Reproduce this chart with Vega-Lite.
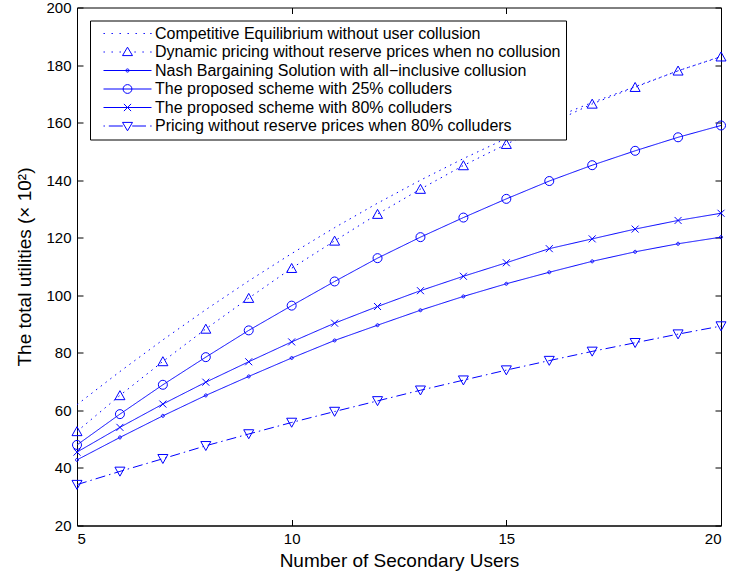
{
  "$schema": "https://vega.github.io/schema/vega-lite/v6.json",
  "width": 644,
  "height": 518,
  "autosize": {"type": "none"},
  "padding": {"left": 77, "top": 7.5, "right": 11, "bottom": 51.5},
  "background": "white",
  "config": {
    "font": "Liberation Sans",
    "view": {"stroke": "black", "strokeWidth": 1},
    "axis": {
      "labelFont": "Liberation Sans",
      "labelFontSize": 15,
      "labelColor": "black",
      "domainColor": "black",
      "tickColor": "black",
      "tickSize": -6,
      "grid": false,
      "titleFont": "Liberation Sans",
      "titleFontSize": 19,
      "titleFontWeight": "normal",
      "titleColor": "black"
    },
    "legend": {
      "orient": "top-left",
      "offset": 13,
      "padding": 5,
      "strokeColor": "black",
      "fillColor": "white",
      "cornerRadius": 0,
      "labelFont": "Liberation Sans",
      "labelFontSize": 16,
      "labelColor": "black",
      "labelLimit": 0,
      "symbolSize": 64,
      "symbolStrokeWidth": 1,
      "symbolStrokeColor": "blue",
      "symbolFillColor": "transparent",
      "symbolOpacity": 1,
      "labelOffset": 44,
      "rowPadding": 2.5
    }
  },
  "data": {
    "values": [
      {"x": 5, "s": "A", "v": 62}, {"x": 6, "s": "A", "v": 73.5}, {"x": 7, "s": "A", "v": 84.5}, {"x": 8, "s": "A", "v": 95}, {"x": 9, "s": "A", "v": 105}, {"x": 10, "s": "A", "v": 114.5}, {"x": 11, "s": "A", "v": 123.5}, {"x": 12, "s": "A", "v": 132}, {"x": 13, "s": "A", "v": 140}, {"x": 14, "s": "A", "v": 147.5}, {"x": 15, "s": "A", "v": 154.5}, {"x": 16, "s": "A", "v": 161}, {"x": 17, "s": "A", "v": 167}, {"x": 18, "s": "A", "v": 172.5}, {"x": 19, "s": "A", "v": 178}, {"x": 20, "s": "A", "v": 183},
      {"x": 5, "s": "B", "v": 52.7}, {"x": 6, "s": "B", "v": 65.2}, {"x": 7, "s": "B", "v": 77}, {"x": 8, "s": "B", "v": 88.3}, {"x": 9, "s": "B", "v": 99}, {"x": 10, "s": "B", "v": 109.4}, {"x": 11, "s": "B", "v": 118.9}, {"x": 12, "s": "B", "v": 128.2}, {"x": 13, "s": "B", "v": 136.9}, {"x": 14, "s": "B", "v": 145.1}, {"x": 15, "s": "B", "v": 152.5}, {"x": 16, "s": "B", "v": 159.5}, {"x": 17, "s": "B", "v": 166.5}, {"x": 18, "s": "B", "v": 172.3}, {"x": 19, "s": "B", "v": 178}, {"x": 20, "s": "B", "v": 182.9},
      {"x": 5, "s": "C", "v": 42.8}, {"x": 6, "s": "C", "v": 50.6}, {"x": 7, "s": "C", "v": 58.1}, {"x": 8, "s": "C", "v": 65.2}, {"x": 9, "s": "C", "v": 71.8}, {"x": 10, "s": "C", "v": 78.2}, {"x": 11, "s": "C", "v": 84.3}, {"x": 12, "s": "C", "v": 89.6}, {"x": 13, "s": "C", "v": 94.8}, {"x": 14, "s": "C", "v": 99.6}, {"x": 15, "s": "C", "v": 104}, {"x": 16, "s": "C", "v": 108}, {"x": 17, "s": "C", "v": 111.8}, {"x": 18, "s": "C", "v": 115.1}, {"x": 19, "s": "C", "v": 117.9}, {"x": 20, "s": "C", "v": 120.2},
      {"x": 5, "s": "D", "v": 48}, {"x": 6, "s": "D", "v": 58.7}, {"x": 7, "s": "D", "v": 68.9}, {"x": 8, "s": "D", "v": 78.5}, {"x": 9, "s": "D", "v": 87.8}, {"x": 10, "s": "D", "v": 96.4}, {"x": 11, "s": "D", "v": 104.8}, {"x": 12, "s": "D", "v": 112.9}, {"x": 13, "s": "D", "v": 120.2}, {"x": 14, "s": "D", "v": 127}, {"x": 15, "s": "D", "v": 133.5}, {"x": 16, "s": "D", "v": 139.7}, {"x": 17, "s": "D", "v": 145.2}, {"x": 18, "s": "D", "v": 150.2}, {"x": 19, "s": "D", "v": 154.9}, {"x": 20, "s": "D", "v": 159},
      {"x": 5, "s": "E", "v": 45.5}, {"x": 6, "s": "E", "v": 54.1}, {"x": 7, "s": "E", "v": 62.2}, {"x": 8, "s": "E", "v": 69.8}, {"x": 9, "s": "E", "v": 76.9}, {"x": 10, "s": "E", "v": 83.8}, {"x": 11, "s": "E", "v": 90.3}, {"x": 12, "s": "E", "v": 96.1}, {"x": 13, "s": "E", "v": 101.6}, {"x": 14, "s": "E", "v": 106.6}, {"x": 15, "s": "E", "v": 111.3}, {"x": 16, "s": "E", "v": 116.2}, {"x": 17, "s": "E", "v": 119.6}, {"x": 18, "s": "E", "v": 123}, {"x": 19, "s": "E", "v": 126}, {"x": 20, "s": "E", "v": 128.5},
      {"x": 5, "s": "F", "v": 34.2}, {"x": 6, "s": "F", "v": 38.8}, {"x": 7, "s": "F", "v": 43.2}, {"x": 8, "s": "F", "v": 47.7}, {"x": 9, "s": "F", "v": 51.8}, {"x": 10, "s": "F", "v": 55.8}, {"x": 11, "s": "F", "v": 59.6}, {"x": 12, "s": "F", "v": 63.3}, {"x": 13, "s": "F", "v": 67}, {"x": 14, "s": "F", "v": 70.5}, {"x": 15, "s": "F", "v": 74}, {"x": 16, "s": "F", "v": 77.3}, {"x": 17, "s": "F", "v": 80.5}, {"x": 18, "s": "F", "v": 83.5}, {"x": 19, "s": "F", "v": 86.5}, {"x": 20, "s": "F", "v": 89.3}
    ]
  },
  "layer": [
    {
      "mark": {"type": "line", "color": "blue", "strokeWidth": 1},
      "encoding": {
        "x": {"field": "x", "type": "quantitative", "scale": {"domain": [5, 20], "nice": false},
              "axis": {"orient": "bottom", "values": [5, 10, 15, 20], "title": "Number of Secondary Users", "labelPadding": 12, "titlePadding": 5}},
        "y": {"field": "v", "type": "quantitative", "scale": {"domain": [20, 200], "nice": false},
              "axis": {"orient": "left", "values": [20, 40, 60, 80, 100, 120, 140, 160, 180, 200], "title": "The total utilities (× 10²)", "labelPadding": 12, "titlePadding": 11}},
        "detail": {"field": "s"},
        "strokeDash": {"field": "s", "type": "nominal", "legend": null,
          "scale": {"domain": ["A", "B", "C", "D", "E", "F"], "range": [[1.5, 4.5], [1.5, 4.5], [1, 0], [1, 0], [1, 0], [10, 4, 1.5, 4]]}}
      }
    },
    {
      "transform": [{"filter": "datum.s !== 'A'"}],
      "mark": {"type": "point", "color": "blue", "filled": false, "strokeWidth": 1, "size": 100, "opacity": 1},
      "encoding": {
        "x": {"field": "x", "type": "quantitative", "scale": {"domain": [5, 20], "nice": false},
              "axis": {"orient": "top", "values": [5, 10, 15, 20], "labels": false, "title": null, "domain": false}},
        "y": {"field": "v", "type": "quantitative", "scale": {"domain": [20, 200], "nice": false},
              "axis": {"orient": "right", "values": [20, 40, 60, 80, 100, 120, 140, 160, 180, 200], "labels": false, "title": null, "domain": false}},
        "shape": {"field": "s", "type": "nominal", "legend": null,
          "scale": {"domain": ["B", "C", "D", "E", "F"],
            "range": [
              "M0,-0.95L1,0.85L-1,0.85Z",
              "M-0.3,0A0.3,0.3 0 1 1 0.3,0A0.3,0.3 0 1 1 -0.3,0",
              "M-0.9,0A0.9,0.9 0 1 1 0.9,0A0.9,0.9 0 1 1 -0.9,0",
              "M-0.7,-0.7L0.7,0.7M0.7,-0.7L-0.7,0.7",
              "M0,0.95L1,-0.85L-1,-0.85Z"
            ]}}
      }
    },
    {
      "transform": [{"filter": "false"}],
      "mark": {"type": "point", "color": "blue", "filled": false, "strokeWidth": 1},
      "encoding": {
        "x": {"field": "x", "type": "quantitative", "axis": null},
        "y": {"field": "v", "type": "quantitative", "axis": null},
        "shape": {"field": "s", "type": "nominal",
          "legend": {"title": null, "labelExpr": "{'A': 'Competitive Equilibrium without user collusion', 'B': 'Dynamic pricing without reserve prices when no collusion', 'C': 'Nash Bargaining Solution with all\u2212inclusive collusion', 'D': 'The proposed scheme with 25% colluders', 'E': 'The proposed scheme with 80% colluders', 'F': 'Pricing without reserve prices when 80% colluders'}[datum.value]"},
          "scale": {"domain": ["A", "B", "C", "D", "E", "F"],
            "range": [
              "M0.125,0h0.35M2.125,0h0.35M4.125,0h0.35M6.125,0h0.35M8.125,0h0.35M10.125,0h0.35M11.8,0h0.35",
              "M0.125,0h0.35M2.125,0h0.35M4.125,0h0.35M7.85,0h0.35M9.85,0h0.35M11.8,0h0.35M6.125,-1.2L7.375,0.9L4.875,0.9Z",
              "M0.125,0H12.125M5.725,0A0.4,0.4 0 1 1 6.525,0A0.4,0.4 0 1 1 5.725,0",
              "M0.125,0H12.125M5.025,0A1.1,1.1 0 1 1 7.225,0A1.1,1.1 0 1 1 5.025,0",
              "M0.125,0H12.125M5.225,-0.9L7.025,0.9M7.025,-0.9L5.225,0.9",
              "M0.125,0h0.35M1.45,0H4.95M7.3,0H10.75M11.8,0h0.35M4.875,-0.9L7.375,-0.9L6.125,1.2Z"
            ]}}
      }
    }
  ],
  "resolve": {
    "scale": {"shape": "independent"},
    "axis": {"x": "independent", "y": "independent"}
  }
}
